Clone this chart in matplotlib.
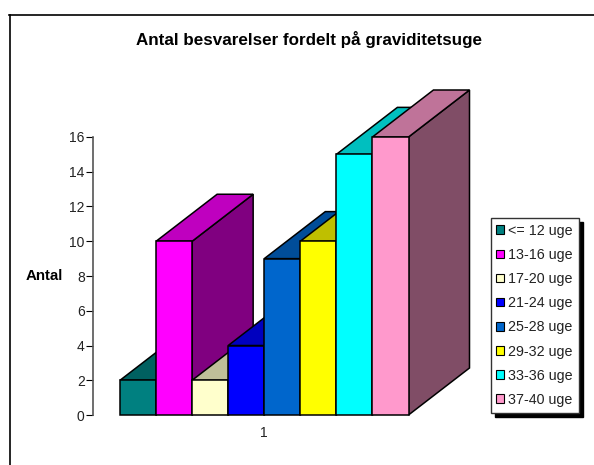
import matplotlib.pyplot as plt
from matplotlib.colors import to_rgb
from matplotlib.lines import Line2D
from matplotlib.patches import Patch

plt.rcParams['font.family'] = ['Liberation Sans', 'DejaVu Sans']

labels = ["<= 12 uge", "13-16 uge", "17-20 uge", "21-24 uge", "25-28 uge", "29-32 uge", "33-36 uge", "37-40 uge"]
values = [2, 10, 2, 4, 9, 10, 15, 16]
colors = ["#008080", "#FF00FF", "#FFFFCC", "#0000FF", "#0066CC", "#FFFF00", "#00FFFF", "#FF99CC"]
yticks = [0, 2, 4, 6, 8, 10, 12, 14, 16]

W, H = 594, 465
fig = plt.figure(figsize=(W / 100, H / 100), dpi=100)

# plot area in pixels
left, right, top, bottom = 93, 408.5, 137, 415
ax = fig.add_axes([left / W, 1 - bottom / H, (right - left) / W, (bottom - top) / H])
ax.set_xlim(-0.75, 8)
ax.set_ylim(0, 16)
ax.patch.set_visible(False)

# depth of the fake 3d boxes, in data units
dx = 61 / ((right - left) / 8.75)
dy = 47 / ((bottom - top) / 16)


def shade(c, f):
    return tuple(v * f for v in to_rgb(c))


for i, (v, c) in enumerate(zip(values, colors)):
    style = dict(edgecolor="black", linewidth=1.1, clip_on=False, joinstyle="miter")
    # side
    ax.fill([i + 1, i + 1 + dx, i + 1 + dx, i + 1], [0, dy, v + dy, v], facecolor=shade(c, 0.5), **style)
    # top
    ax.fill([i, i + dx, i + 1 + dx, i + 1], [v, v + dy, v + dy, v], facecolor=shade(c, 0.75), **style)
    # front
    ax.bar(i, v, width=1, align="edge", color=c, clip_on=False, edgecolor="black", linewidth=1.1)

for s in ["top", "right", "bottom"]:
    ax.spines[s].set_visible(False)
ax.spines["left"].set_color("#555555")
ax.spines["left"].set_linewidth(1.2)

ax.set_yticks(yticks)
ax.set_xticks([4], ["1"])
ax.tick_params(axis="y", length=5, width=0.8, pad=1, labelsize=10, labelcolor="#222222")
ax.tick_params(axis="x", length=0, pad=8, labelsize=10, labelcolor="#222222")

fig.text(309.5 / W, 1 - 40 / H, "Antal besvarelser fordelt på graviditetsuge", ha="center", va="center",
         fontsize=12.25, fontweight="bold")
fig.text(44 / W, 1 - 276 / H, "Antal", ha="center", va="center", fontsize=10.8, fontweight="bold")

handles = [Patch(facecolor=c, edgecolor="black", linewidth=0.8) for c in colors]
fig.legend(handles, labels, loc="upper left", bbox_to_anchor=(490.5 / W, 1 - 218 / H), borderaxespad=0,
           fontsize=10.3, fancybox=False, framealpha=1, edgecolor="#333333",
           shadow={"ox": 3, "oy": -3, "color": "black", "alpha": 1},
           handlelength=0.55, handleheight=0.55, handletextpad=0.3, labelspacing=0.71,
           borderpad=0.4, labelcolor="#222222")

# chart frame, only top and left are inside the picture
fig.add_artist(Line2D([9 / W, 1], [1 - 15 / H, 1 - 15 / H], color="black", linewidth=1.2))
fig.add_artist(Line2D([9.5 / W, 9.5 / W], [1 - 15 / H, 0], color="black", linewidth=1.2))

fig.savefig("out.png", dpi=100)
